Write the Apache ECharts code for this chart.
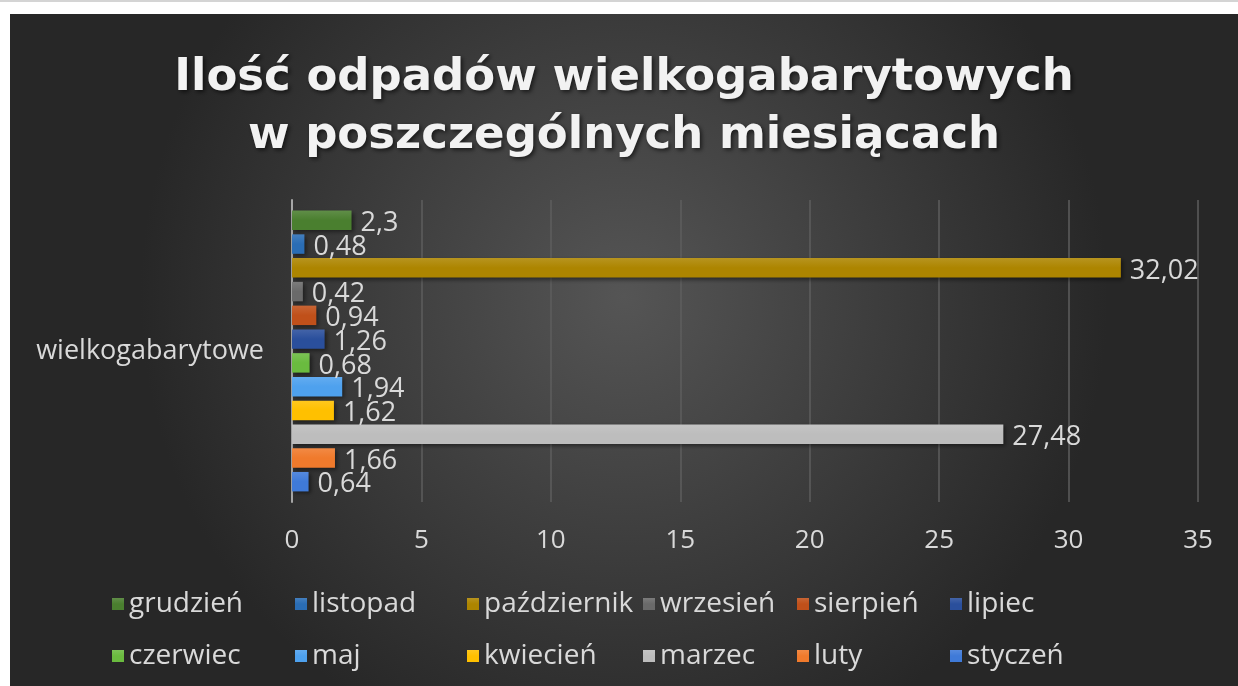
<!DOCTYPE html>
<html lang="pl">
<head>
<meta charset="utf-8">
<title>Ilość odpadów wielkogabarytowych</title>
<script src="https://cdn.jsdelivr.net/npm/echarts@6.0.0/dist/echarts.min.js"></script>
<style>
  html, body { margin: 0; padding: 0; background: #fff; }
  body { width: 1238px; height: 686px; position: relative; overflow: hidden; }
  .topline { position: absolute; left: 0; top: 0; width: 1238px; height: 2px; background: #d4d4d4; }
  #chart { position: absolute; left: 10px; top: 14px; width: 1228px; height: 672px; }
</style>
</head>
<body>
<div class="topline"></div>
<div id="chart"></div>
<script>
const CATEGORIES = ['wielkogabarytowe'];

// series from top bar to bottom bar
const MONTHS = ['grudzień', 'listopad', 'październik', 'wrzesień', 'sierpień', 'lipiec',
  'czerwiec', 'maj', 'kwiecień', 'marzec', 'luty', 'styczeń'];
const VALUES = [2.3, 0.48, 32.02, 0.42, 0.94, 1.26, 0.68, 1.94, 1.62, 27.48, 1.66, 0.64];
const COLORS = ['#4a7f2f', '#2a6db5', '#ad8500', '#6a6a6a', '#c0501a', '#2a4f9c',
  '#6abb3f', '#4ea1ee', '#ffc000', '#bdbdbd', '#f07a2c', '#3f7ad8'];

// legend columns, as laid out in the picture (top row, bottom row)
const LEGEND_COLUMNS = [
  ['grudzień', 'czerwiec'],
  ['listopad', 'maj'],
  ['październik', 'kwiecień'],
  ['wrzesień', 'marzec'],
  ['sierpień', 'luty'],
  ['lipiec', 'styczeń']
];
const LEGEND_LEFT = [102, 285, 457, 633, 787, 940];

const X_TICKS = { min: 0, max: 35, interval: 5 };

const TEXT = '#d9d9d9';
const FONT = '"Open Sans", "Noto Sans", sans-serif';

const lighten = (hex, amt) => {
  const n = parseInt(hex.slice(1), 16);
  const mix = (c) => Math.round(c + (255 - c) * amt);
  const r = mix(n >> 16), g = mix((n >> 8) & 255), b = mix(n & 255);
  return `rgb(${r},${g},${b})`;
};

const chart = echarts.init(document.getElementById('chart'), null, { renderer: 'canvas' });

const series = MONTHS.map((name, i) => ({
  name,
  type: 'bar',
  data: [VALUES[i]],
  barGap: '22%',
  barCategoryGap: '7%',
  itemStyle: {
    color: {
      type: 'linear', x: 0, y: 0, x2: 0, y2: 1,
      colorStops: [
        { offset: 0, color: lighten(COLORS[i], 0.12) },
        { offset: 0.5, color: COLORS[i] },
        { offset: 1, color: COLORS[i] }
      ]
    },
    shadowColor: 'rgba(0,0,0,0.45)',
    shadowBlur: 4,
    shadowOffsetX: 2,
    shadowOffsetY: 2
  },
  label: {
    show: true,
    position: 'right',
    distance: 9,
    offset: [0, 3],
    color: TEXT,
    fontFamily: FONT,
    fontSize: 27,
    formatter: (p) => String(p.value).replace('.', ',')
  }
}));

const legends = LEGEND_COLUMNS.map((col, i) => ({
  data: col,
  orient: 'vertical',
  left: LEGEND_LEFT[i],
  top: 575,
  itemWidth: 12,
  itemHeight: 12,
  itemGap: 22,
  icon: 'rect',
  selectedMode: false,
  padding: 0,
  textStyle: { color: TEXT, fontFamily: FONT, fontSize: 28, lineHeight: 30 }
}));

chart.setOption({
  animation: false,
  backgroundColor: {
    type: 'radial', x: 0.5, y: 0.42, r: 0.72,
    colorStops: [
      { offset: 0, color: '#555555' },
      { offset: 1, color: '#272727' }
    ]
  },
  color: COLORS,
  title: {
    text: 'Ilość odpadów wielkogabarytowych\nw poszczególnych miesiącach',
    left: 'center',
    top: 30,
    textStyle: {
      color: '#f2f2f2',
      fontFamily: '"DejaVu Sans", sans-serif',
      fontWeight: 'bold',
      fontSize: 45,
      lineHeight: 58,
      textShadowColor: 'rgba(0,0,0,0.6)',
      textShadowBlur: 4,
      textShadowOffsetX: 2,
      textShadowOffsetY: 2
    }
  },
  legend: legends,
  grid: { left: 282, right: 40, top: 186, bottom: 184 },
  xAxis: {
    type: 'value',
    min: X_TICKS.min,
    max: X_TICKS.max,
    interval: X_TICKS.interval,
    axisLine: { show: false },
    axisTick: { show: false },
    axisLabel: { color: TEXT, fontFamily: FONT, fontSize: 26, margin: 26 },
    splitLine: { show: true, lineStyle: { color: '#5e5e5e', width: 1.5 } }
  },
  yAxis: {
    type: 'category',
    data: CATEGORIES,
    axisLine: { show: true, lineStyle: { color: '#a6a6a6', width: 2 } },
    axisTick: { show: false },
    axisLabel: { color: TEXT, fontFamily: FONT, fontSize: 27, margin: 28 }
  },
  series
});
</script>
</body>
</html>
